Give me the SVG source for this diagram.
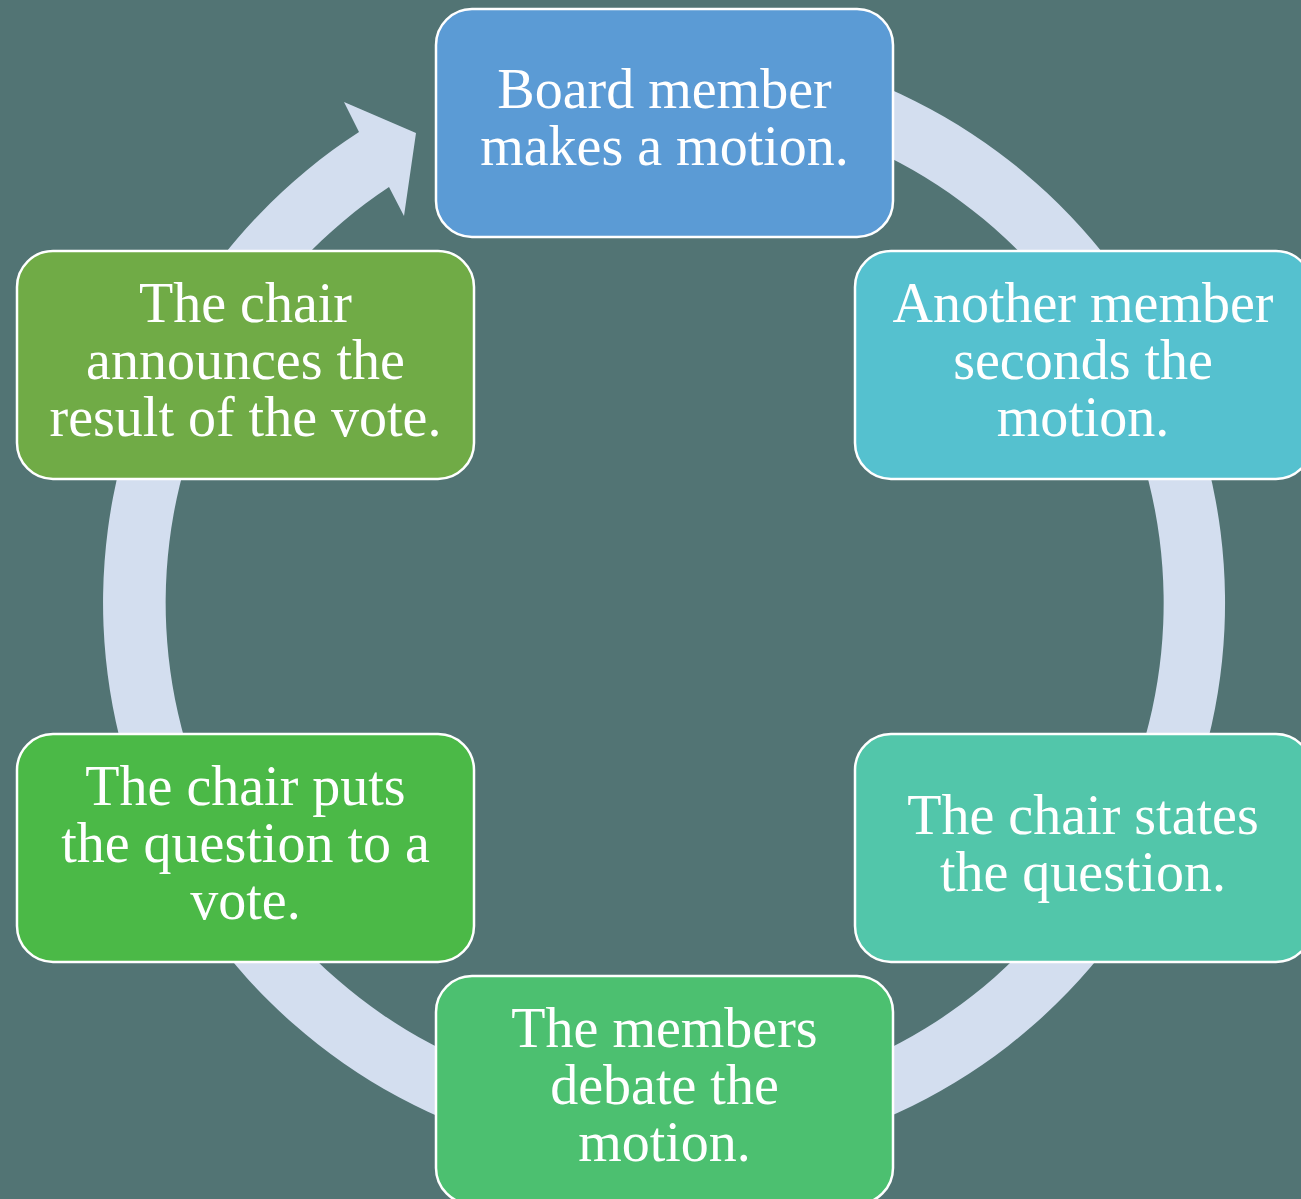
<svg xmlns="http://www.w3.org/2000/svg" width="1301" height="1199" viewBox="0 0 1301 1199">
<style>
.box{stroke:#ffffff;stroke-width:2.5}
.t{font-family:"Liberation Serif","Times New Roman",serif;font-size:56px;fill:#ffffff;text-anchor:middle}
</style>
<rect x="0" y="0" width="1301" height="1199" fill="#527474"/>
<g id="connectors">
<path d="M 762.4 50.5 A 561 561 0 1 1 359 132 L 344 102 L 416 133 L 404 216 L 389 187 A 499 499 0 1 0 751.7 111.6 Z" fill="#D3DEEF"/>
</g>
<g id="n1">
<rect class="box" x="436" y="9" width="457" height="228" rx="36" fill="#5B9BD5"/>
<text class="t"><tspan x="664.5" y="108">Board member</tspan><tspan x="664.5" y="165">makes a motion.</tspan></text>
</g>
<g id="n2">
<rect class="box" x="855" y="251" width="457" height="228" rx="36" fill="#55C1CF"/>
<text class="t"><tspan x="1083" y="322">Another member</tspan><tspan x="1083" y="379">seconds the</tspan><tspan x="1083" y="436">motion.</tspan></text>
</g>
<g id="n3">
<rect class="box" x="855" y="734" width="457" height="228" rx="36" fill="#52C6AA"/>
<text class="t"><tspan x="1083" y="834">The chair states</tspan><tspan x="1083" y="891">the question.</tspan></text>
</g>
<g id="n4">
<rect class="box" x="436" y="976" width="457" height="228" rx="36" fill="#4CC070"/>
<text class="t"><tspan x="664.5" y="1047">The members</tspan><tspan x="664.5" y="1104">debate the</tspan><tspan x="664.5" y="1161">motion.</tspan></text>
</g>
<g id="n5">
<rect class="box" x="17" y="734" width="457" height="228" rx="36" fill="#4BB947"/>
<text class="t"><tspan x="245.5" y="805">The chair puts</tspan><tspan x="245.5" y="862">the question to a</tspan><tspan x="245.5" y="919">vote.</tspan></text>
</g>
<g id="n6">
<rect class="box" x="17" y="251" width="457" height="228" rx="36" fill="#70AB46"/>
<text class="t"><tspan x="245.5" y="322">The chair</tspan><tspan x="245.5" y="379">announces the</tspan><tspan x="245.5" y="436">result of the vote.</tspan></text>
</g>
</svg>
